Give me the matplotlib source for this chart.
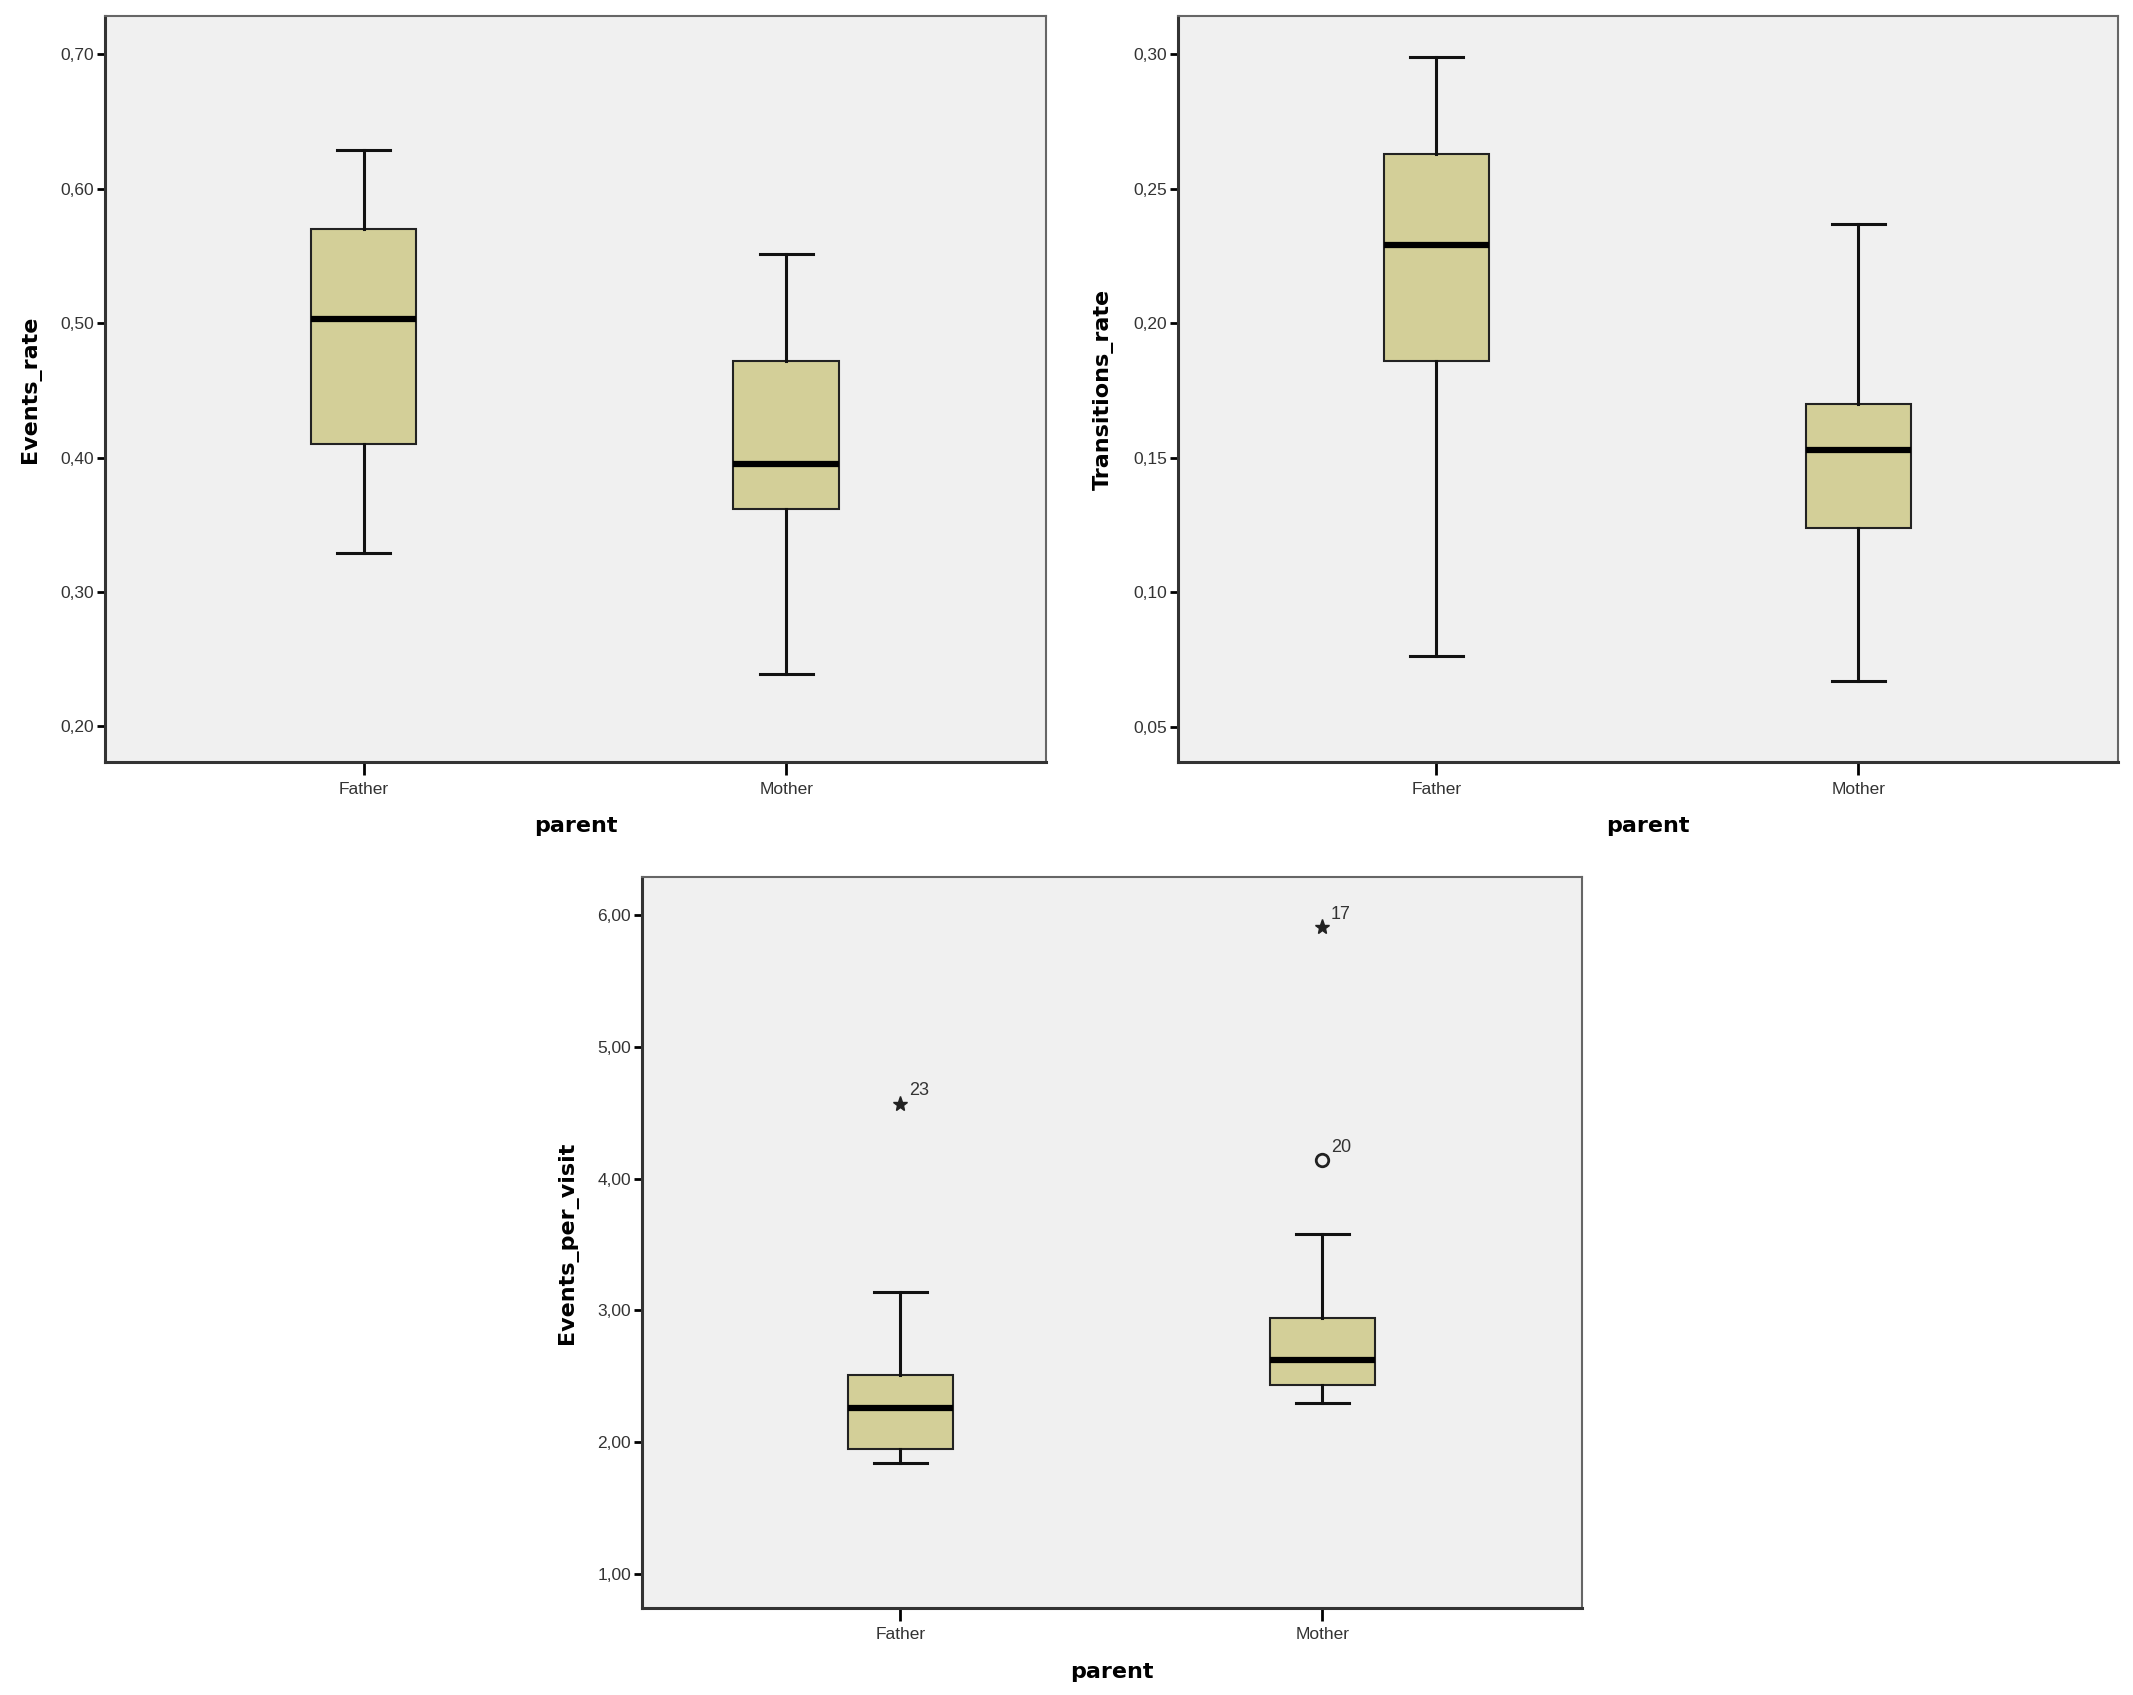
import matplotlib.pyplot as plt
from matplotlib.ticker import FuncFormatter

# Datos (cuartiles y bigotes por grupo)
groups = ['Father', 'Mother']

ev_rate_lo = [0.329, 0.239]
ev_rate_q1 = [0.410, 0.362]
ev_rate_med = [0.503, 0.395]
ev_rate_q3 = [0.570, 0.472]
ev_rate_hi = [0.629, 0.551]

tr_rate_lo = [0.0763, 0.067]
tr_rate_q1 = [0.186, 0.124]
tr_rate_med = [0.229, 0.153]
tr_rate_q3 = [0.263, 0.170]
tr_rate_hi = [0.299, 0.237]

epv_lo = [1.84, 2.30]
epv_q1 = [1.95, 2.43]
epv_med = [2.26, 2.62]
epv_q3 = [2.51, 2.94]
epv_hi = [3.14, 3.58]

# outliers: grupo, valor, etiqueta, tipo
out_group = [0, 1, 1]
out_value = [4.57, 5.91, 4.14]
out_label = ['23', '17', '20']
out_extreme = [True, True, False]

box_color = '#d3cf98'
bg_color = '#f0f0f0'


def comma(v, pos):
    return f'{v:.2f}'.replace('.', ',')


def panel(ax, lo, q1, med, q3, hi, ylabel, ylim, yticks):
    stats = []
    for i in range(len(groups)):
        stats.append(dict(whislo=lo[i], q1=q1[i], med=med[i], q3=q3[i],
                          whishi=hi[i], fliers=[], label=groups[i]))
    ax.bxp(stats, positions=[1, 2], widths=0.25, patch_artist=True,
           showfliers=False,
           boxprops=dict(facecolor=box_color, edgecolor='#222222', linewidth=1.5),
           medianprops=dict(color='black', linewidth=4.5),
           whiskerprops=dict(color='#111111', linewidth=2.2),
           capprops=dict(color='#111111', linewidth=2.2),
           capwidths=0.125)
    ax.set_facecolor(bg_color)
    ax.set_xlim(0.388, 2.615)
    ax.set_ylim(*ylim)
    ax.set_yticks(yticks)
    ax.yaxis.set_major_formatter(FuncFormatter(comma))
    ax.set_xticks([1, 2])
    ax.set_xticklabels(groups)
    ax.tick_params(axis='y', length=6, width=2, labelsize=12.5, pad=2)
    ax.tick_params(axis='x', length=9, width=2, labelsize=12.5, pad=5)
    for lab in ax.get_xticklabels() + ax.get_yticklabels():
        lab.set_fontfamily('Liberation Sans')
        lab.set_color('#333333')
    for s in ['left', 'bottom']:
        ax.spines[s].set_linewidth(2.2)
        ax.spines[s].set_color('#333333')
    for s in ['top', 'right']:
        ax.spines[s].set_linewidth(1.5)
        ax.spines[s].set_color('#666666')
    ax.set_ylabel(ylabel, fontsize=16, fontweight='bold', labelpad=14)
    ax.set_xlabel('parent', fontsize=16, fontweight='bold', labelpad=14)


fig = plt.figure(figsize=(21.33, 16.95), dpi=100)
ax1 = fig.add_axes([0.0492, 0.5504, 0.4412, 0.4401])
ax2 = fig.add_axes([0.5523, 0.5504, 0.4407, 0.4401])
ax3 = fig.add_axes([0.3010, 0.0513, 0.4407, 0.4313])

panel(ax1, ev_rate_lo, ev_rate_q1, ev_rate_med, ev_rate_q3, ev_rate_hi,
      'Events_rate', (0.1735, 0.7283), [0.2, 0.3, 0.4, 0.5, 0.6, 0.7])
panel(ax2, tr_rate_lo, tr_rate_q1, tr_rate_med, tr_rate_q3, tr_rate_hi,
      'Transitions_rate', (0.0368, 0.3142), [0.05, 0.10, 0.15, 0.20, 0.25, 0.30])
panel(ax3, epv_lo, epv_q1, epv_med, epv_q3, epv_hi,
      'Events_per_visit', (0.74, 6.29), [1, 2, 3, 4, 5, 6])

# outliers del tercer grafico
for g, v, lab, ext in zip(out_group, out_value, out_label, out_extreme):
    if ext:
        ax3.plot(g + 1, v, marker='*', color='#222222', markersize=11,
                 linestyle='none')
    else:
        ax3.plot(g + 1, v, marker='o', markerfacecolor='none',
                 markeredgecolor='#222222', markeredgewidth=2, markersize=9,
                 linestyle='none')
    ax3.annotate(lab, (g + 1, v), xytext=(6, 6), textcoords='offset points',
                 fontsize=13, family='Liberation Sans', color='#333333')

plt.savefig('out.png', dpi=100)
